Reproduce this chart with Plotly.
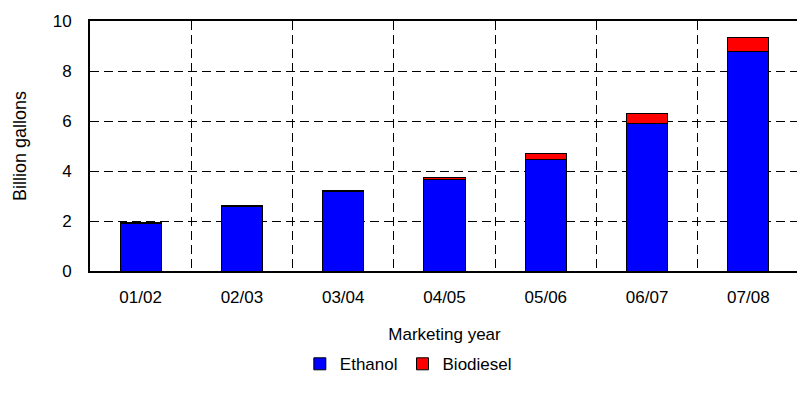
import plotly.graph_objects as go

years = ['01/02', '02/03', '03/04', '04/05', '05/06', '06/07', '07/08']
ethanol = [1.92, 2.57, 3.19, 3.66, 4.46, 5.90, 8.77]
biodiesel = [0.02, 0.06, 0.02, 0.10, 0.26, 0.42, 0.56]

fig = go.Figure()
fig.add_trace(go.Bar(
    x=years, y=ethanol, name='Ethanol',
    marker=dict(color='#0000ff', line=dict(color='black', width=1))
))
fig.add_trace(go.Bar(
    x=years, y=biodiesel, name='Biodiesel',
    marker=dict(color='#ff0000', line=dict(color='black', width=1))
))

# the page body has an 8px margin, so the div is shifted by 8px
fig.update_layout(
    barmode='stack',
    bargap=0.593,
    width=797, height=395,
    margin=dict(l=82, r=4, t=11, b=132),
    paper_bgcolor='white',
    plot_bgcolor='white',
    font=dict(family='Liberation Sans, Arial, sans-serif', size=17, color='black'),
    xaxis=dict(
        title=dict(text='Marketing year', font=dict(size=17), standoff=22),
        tickson='boundaries',
        showgrid=True, gridcolor='black', griddash='9px,5px', gridwidth=1,
        showline=True, linecolor='black', linewidth=2, mirror=True,
        ticks='', ticklabelstandoff=10,
    ),
    yaxis=dict(
        title=dict(text='Billion gallons', font=dict(size=18), standoff=21),
        range=[0, 10], dtick=2,
        showgrid=True, gridcolor='black', griddash='9px,5px', gridwidth=1,
        showline=True, linecolor='black', linewidth=2, mirror=True,
        ticks='', zeroline=False, ticklabelstandoff=13,
    ),
    legend=dict(
        orientation='h', x=0.449, xanchor='center', y=-0.373, yanchor='middle',
        font=dict(size=17), itemwidth=30, traceorder='normal',
    ),
)

fig.write_html("out.html")
